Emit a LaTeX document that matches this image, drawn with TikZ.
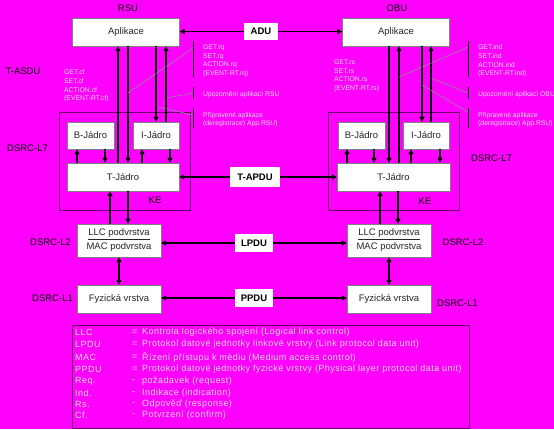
\documentclass[tikz,border=0pt]{standalone}
\usepackage{fontspec}
\setmainfont{Liberation Sans}
\newfontfamily\legfont{Liberation Sans}[LetterSpace=5]
\usepackage{tikz}
\usetikzlibrary{arrows.meta}
\definecolor{bgmag}{RGB}{255,0,255}
\definecolor{keline}{RGB}{105,0,105}
\definecolor{noteclr}{RGB}{218,218,218}

\begin{document}
\begin{tikzpicture}[x=1pt,y=-1pt,font=\fontsize{9.5}{11}\selectfont,
  box/.style={draw=black!50,fill=white,inner sep=0pt,text=black!85},
  pdu/.style={fill=white,inner sep=0pt,font=\fontsize{9.5}{11}\selectfont\bfseries},
  arr/.style={line width=1.5pt,-{Triangle[length=5pt,width=5pt]}},
  both/.style={line width=1.5pt,{Triangle[length=5pt,width=5pt]}-{Triangle[length=5pt,width=5pt]}},
  note/.style={text=noteclr,font=\fontsize{6.8}{8.6}\selectfont,align=left,inner sep=0pt,anchor=west},
  legend/.style={text=noteclr,font=\legfont\fontsize{9}{10}\selectfont,inner sep=0pt,anchor=west},
  lead/.style={draw=black!45,line width=0.6pt},
  tick/.style={line width=0.6pt}]
\useasboundingbox (0,0) rectangle (554,429);
\fill[bgmag] (0,0) rectangle (554,429);
% KE frames
\draw[keline,line width=0.8pt] (59,112) rectangle (190,210);
\draw[keline,line width=0.8pt] (328,112) rectangle (459,210);
% RSU side
\node (rsu) at (128,8) {RSU};
\node[box,minimum width=107,minimum height=28] (apL) at (126,32) {Aplikace};
\node[box,minimum width=47,minimum height=27] (bjL) at (90.5,135.5) {B-Jádro};
\node[box,minimum width=46,minimum height=27] (ijL) at (156,135.5) {I-Jádro};
\node[box,minimum width=112,minimum height=28] (tjL) at (123,177) {T-Jádro};
\node[box,minimum width=84,minimum height=33,align=center] (llcL) at (119,240.5) {\underline{LLC podvrstva}\\[3pt]MAC podvrstva};
\node[box,minimum width=84,minimum height=28] (fyL) at (119,299) {Fyzická vrstva};
% OBU side
\node (obu) at (397,8) {OBU};
\node[box,minimum width=107,minimum height=28] (apR) at (396,32) {Aplikace};
\node[box,minimum width=47,minimum height=27] (bjR) at (361.5,135.5) {B-Jádro};
\node[box,minimum width=46,minimum height=27] (ijR) at (426,135.5) {I-Jádro};
\node[box,minimum width=113,minimum height=28] (tjR) at (393.5,177) {T-Jádro};
\node[box,minimum width=84,minimum height=33,align=center] (llcR) at (389,240.5) {\underline{LLC podvrstva}\\[3pt]MAC podvrstva};
\node[box,minimum width=84,minimum height=28] (fyR) at (389,299) {Fyzická vrstva};
% PDUs
\node[pdu,minimum width=34,minimum height=17] (adu) at (261,31.5) {ADU};
\node[pdu,minimum width=50,minimum height=20] (tapdu) at (255,177) {T-APDU};
\node[pdu,minimum width=38,minimum height=18] (lpdu) at (254,243) {LPDU};
\node[pdu,minimum width=38,minimum height=18] (ppdu) at (254,298) {PPDU};
\draw[arr] (adu.west) -- (adu.west -| apL.east);
\draw[arr] (adu.east) -- (adu.east -| apR.west);
\draw[arr] (tapdu.west) -- (tapdu.west -| tjL.east);
\draw[arr] (tapdu.east) -- (tapdu.east -| tjR.west);
\draw[arr] (lpdu.west) -- (lpdu.west -| llcL.east);
\draw[arr] (lpdu.east) -- (lpdu.east -| llcR.west);
\draw[arr] (ppdu.west) -- (ppdu.west -| fyL.east);
\draw[arr] (ppdu.east) -- (ppdu.east -| fyR.west);
% vertical primitives
\foreach \a/\b/\x in {tjL.north/apL.south/118, apL.south/tjL.north/128,
  apL.south/ijL.north/156, ijL.north/apL.south/166,
  tjL.north/bjL.south/77, bjL.south/tjL.north/105,
  tjL.north/ijL.south/142, ijL.south/tjL.north/170,
  llcL.north/tjL.south/110, tjL.south/llcL.north/128,
  tjR.north/bjR.south/347, bjR.south/tjR.north/374,
  apR.south/tjR.north/389, tjR.north/apR.south/399,
  tjR.north/ijR.south/411, ijR.south/tjR.north/440,
  apR.south/ijR.north/422, ijR.north/apR.south/431,
  llcR.north/tjR.south/380, tjR.south/llcR.north/398}
  \draw[arr] (\a -| \x,0) -- (\b -| \x,0);
\draw[both] (llcL.south) -- (fyL.north);
\draw[both] (llcR.south) -- (fyR.north);
% layer labels
\node (asdu) at (23,71) {T-ASDU};
\node (l7L) at (27.5,148) {DSRC-L7};
\node (l7R) at (491.5,158) {DSRC-L7};
\node (l2L) at (50.5,242) {DSRC-L2};
\node (l1L) at (52.5,298) {DSRC-L1};
\node (l2R) at (463,242) {DSRC-L2};
\node (l1R) at (457.5,303) {DSRC-L1};
\node (keLt) at (155,200) {KE};
\node (keRt) at (425,201) {KE};
% service notes
\node[note] (cfL) at (64,86) {GET.cf\\SET.cf\\ACTION.cf\\(EVENT-RT.cf)};
\node[note] (rqL) at (203,61) {GET.rq\\SET.rq\\ACTION.rq\\(EVENT-RT.rq)};
\node[note] (upL) at (203,95) {Upozornění aplikací RSU};
\node[note] (prL) at (203,119.5) {Připravené aplikace\\(deregistrace) App.RSU)};
\node[note] (rsR) at (334,76) {GET.rs\\SET.rs\\ACTION.rs\\(EVENT-RT.rs)};
\node[note] (indR) at (478,61) {GET.ind\\SET.ind\\ACTION.ind\\(EVENT-RT.ind)};
\node[note] (upR) at (478,95) {Upozornění aplikací OBU};
\node[note] (prR) at (478,119.5) {Připravené aplikace\\(deregistrace) App.RSU)};
\draw[tick] (193,41) -- (193,77) (193,87) -- (193,99) (193,108) -- (193,128);
\draw[tick] (468,41) -- (468,77) (468,87) -- (468,99) (468,108) -- (468,128);
\coordinate (rqT) at (193,48);   \coordinate (rqE) at (128,93);
\coordinate (upT) at (193,93);   \coordinate (upE) at (166,98);
\coordinate (prT) at (193,115);  \coordinate (prE) at (158,107);
\coordinate (indT) at (468,47);  \coordinate (indE) at (399,77);
\coordinate (upT2) at (468,93);  \coordinate (upE2) at (431,78);
\coordinate (prT2) at (468,112); \coordinate (prE2) at (422,85);
\draw[lead] (rqT) -- (rqE) (upT) -- (upE) (prT) -- (prE);
\draw[lead] (indT) -- (indE) (upT2) -- (upE2) (prT2) -- (prE2);
% legend
\draw[keline,line width=0.8pt] (72,325) rectangle (469,428);
\foreach \y/\k/\s/\t [count=\i] in {332/LLC/=/{Kontrola logického spojení (Logical link control)},
  344.5/LPDU/=/{Protokol datové jednotky linkové vrstvy (Link protocol data unit)},
  357/MAC/=/{Řízení přístupu k médiu (Medium access control)},
  369/PPDU/=/{Protokol datové jednotky fyzické vrstvy (Physical layer protocol data unit)},
  381/Req./-/{požadavek (request)},
  393/Ind./-/{Indikace (indication)},
  404.5/Rs./-/{Odpověď (response)},
  415.5/Cf./-/{Potvrzení (confirm)}}
{
  \node[legend] (key\i) at (75,\y) {\k};
  \node[legend] (sig\i) at (132,\y) {\s};
  \node[legend] (txt\i) at (142,\y) {\t};
}
\end{tikzpicture}
\end{document}
